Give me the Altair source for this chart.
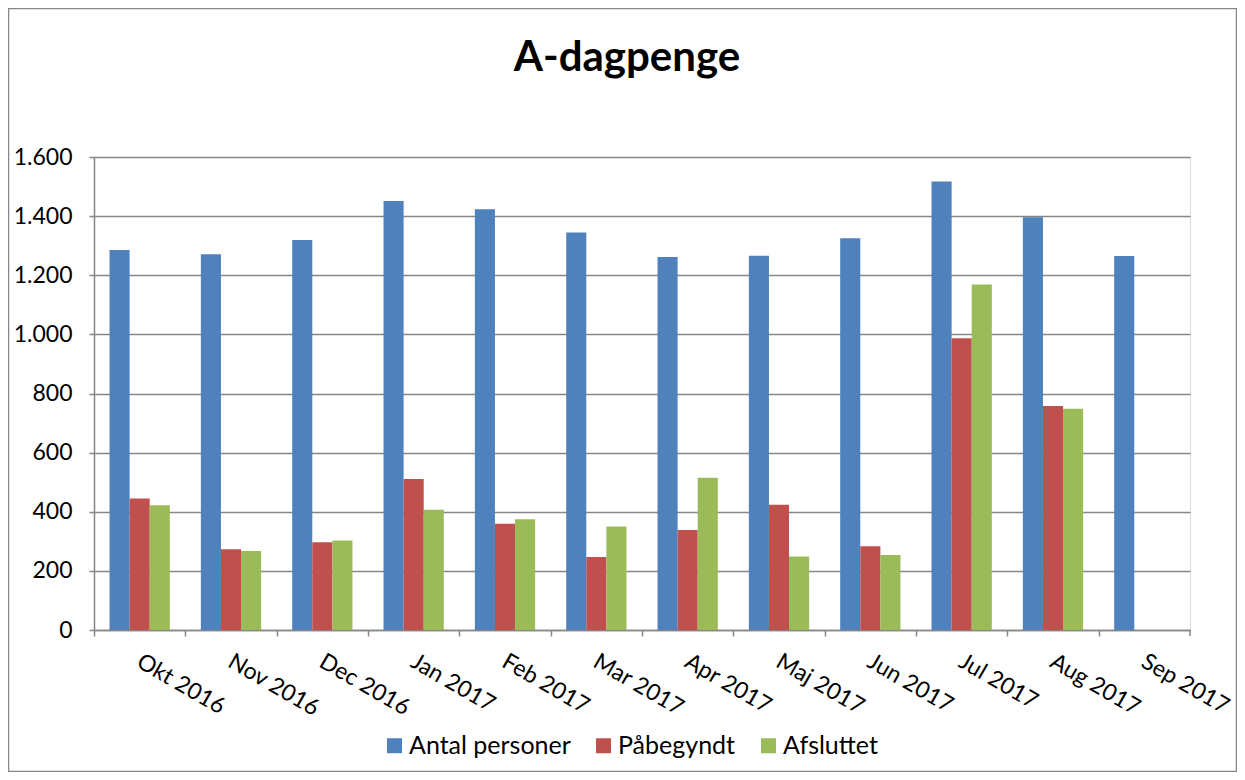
import altair as alt
import pandas as pd

months = ["Okt 2016", "Nov 2016", "Dec 2016", "Jan 2017", "Feb 2017", "Mar 2017",
          "Apr 2017", "Maj 2017", "Jun 2017", "Jul 2017", "Aug 2017", "Sep 2017"]
antal_personer = [1285, 1271, 1319, 1451, 1423, 1345, 1262, 1266, 1325, 1517, 1396, 1265]
paabegyndt = [445, 273, 297, 511, 359, 247, 338, 424, 283, 987, 758, None]
afsluttet = [422, 267, 303, 407, 375, 350, 515, 249, 254, 1169, 748, None]
series = ["Antal personer", "Påbegyndt", "Afsluttet"]
colors = ["#4F81BD", "#C0504D", "#9BBB59"]
y_ticks = [0, 200, 400, 600, 800, 1000, 1200, 1400, 1600]
chart_title = "A-dagpenge"

rows = []
for i, m in enumerate(months):
    for s, vals in zip(series, [antal_personer, paabegyndt, afsluttet]):
        if vals[i] is not None:
            rows.append({"month": m, "serie": s, "value": vals[i]})
df = pd.DataFrame(rows)

W, H = 1096, 473
PAD_L, PAD_T = 86, 149
PAD_R = 1229 - PAD_L - W
PAD_B = 764 - PAD_T - H
STEP = W / len(months)
GRAY = "#868686"
FONT = "Lato"

bars = alt.Chart(df).mark_bar().encode(
    x=alt.X("month:N", sort=months,
            scale=alt.Scale(paddingInner=0.34, paddingOuter=0.17),
            axis=alt.Axis(title=None, labelAngle=30, labelAlign="left", labelBaseline="top",
                          labelFontSize=23, labelColor="#000000", labelFont=FONT,
                          labelPadding=14, tickOffset=-STEP / 2, labelOffset=STEP / 2 + 4,
                          domainColor=GRAY, domainWidth=1.5, tickColor=GRAY, tickWidth=1.5,
                          tickSize=6, grid=False, labelOverlap=False)),
    xOffset=alt.XOffset("serie:N", sort=series, scale=alt.Scale(domain=series)),
    y=alt.Y("value:Q", scale=alt.Scale(domain=[0, 1600], nice=False),
            axis=alt.Axis(title=None, values=y_ticks,
                          labelExpr="replace(format(datum.value, ','), ',', '.')",
                          labelFontSize=23, labelColor="#000000", labelFont=FONT,
                          labelPadding=17, domainColor=GRAY, domainWidth=1.5,
                          tickColor=GRAY, tickWidth=1.5, tickSize=5,
                          grid=True, gridColor=GRAY, gridWidth=1.5)),
    color=alt.Color("serie:N", sort=series,
                    scale=alt.Scale(domain=series, range=colors),
                    legend=alt.Legend(title=None, orient="none", direction="horizontal",
                                      legendX=288, legendY=576,
                                      symbolType="square", symbolSize=225,
                                      symbolStrokeWidth=0, labelFontSize=25,
                                      labelFont=FONT, labelColor="#000000",
                                      columnPadding=20, labelOffset=2, labelLimit=300)),
)

end_tick = alt.Chart(pd.DataFrame({"k": [0]})).mark_rule(color=GRAY, strokeWidth=1.5).encode(
    x=alt.value(W), y=alt.value(H), y2=alt.value(H + 6)
)

border = alt.Chart(pd.DataFrame({"k": [0]})).mark_rect(
    fill=None, stroke=GRAY, strokeWidth=1.5
).encode(
    x=alt.value(-PAD_L + 0.5), x2=alt.value(W + PAD_R - 0.5),
    y=alt.value(-PAD_T + 0.5), y2=alt.value(H + PAD_B - 0.5)
)

title = alt.Chart(pd.DataFrame({"t": [chart_title]})).mark_text(
    font=FONT, fontSize=42, fontWeight="bold", color="#000000",
    align="center", baseline="alphabetic"
).encode(
    text="t:N", x=alt.value(533), y=alt.value(-86)
)

chart = alt.layer(border, bars, end_tick, title).properties(
    width=W, height=H,
    padding={"left": PAD_L, "top": PAD_T, "right": PAD_R, "bottom": PAD_B},
    autosize=alt.AutoSizeParams(type="none"),
).configure_view(strokeWidth=0).configure(background="white")

chart.save("out.html", embed_options={"renderer": "svg", "actions": False})
